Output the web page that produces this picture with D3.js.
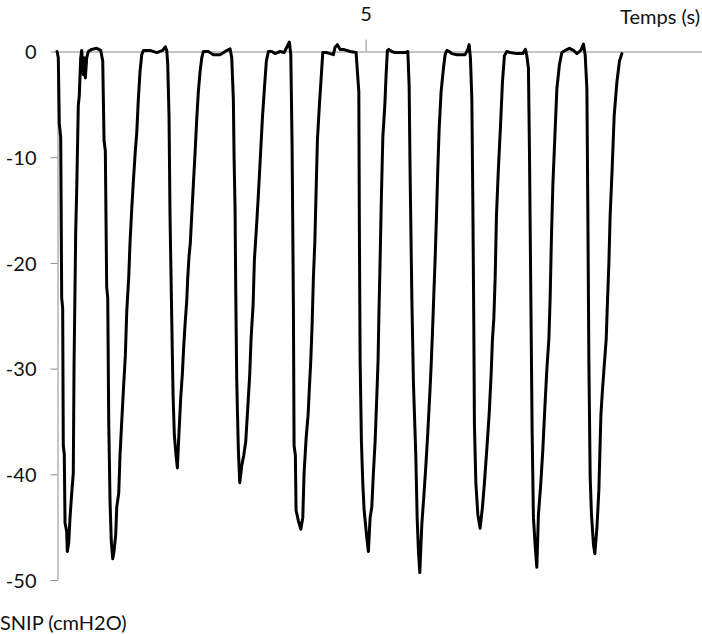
<!DOCTYPE html>
<html>
<head>
<meta charset="utf-8">
<script src="https://cdn.jsdelivr.net/npm/d3@7"></script>
<style>
  html, body { margin: 0; padding: 0; background: #fff; }
  svg { display: block; }
  text { font-family: Lato, "Liberation Sans", Arial, sans-serif; fill: #111; }
</style>
</head>
<body>
<svg id="chart" width="702" height="634"></svg>
<script>
// Time (s)
const timeS = [
0.000,0.005,0.021,0.037,0.060,0.076,0.092,0.102,0.118,0.130,0.157,0.167,0.190,0.211,0.238,0.264,0.276,0.303,0.319,0.345,
0.361,0.384,0.400,0.426,0.442,0.459,0.481,0.507,0.562,0.643,0.708,0.741,0.762,0.783,0.805,0.822,0.838,0.859,0.880,0.903,
0.924,0.951,0.968,1.000,1.021,1.049,1.075,1.107,1.130,1.162,1.183,1.211,1.237,1.269,1.292,1.318,1.345,1.373,1.399,1.507,
1.616,1.713,1.755,1.778,1.794,1.815,1.831,1.859,1.880,1.901,1.929,1.950,1.977,2.005,2.031,2.053,2.074,2.102,2.118,2.139,
2.160,2.183,2.209,2.236,2.264,2.290,2.318,2.345,2.371,2.452,2.533,2.642,2.723,2.804,2.831,2.857,2.869,2.885,2.896,2.912,
2.922,2.938,2.961,2.993,3.026,3.058,3.091,3.123,3.144,3.177,3.198,3.230,3.262,3.295,3.327,3.360,3.392,3.425,3.480,3.533,
3.614,3.679,3.723,3.765,3.788,3.809,3.830,3.841,3.862,3.873,3.911,3.950,3.982,4.003,4.036,4.068,4.089,4.112,4.133,4.154,
4.177,4.198,4.219,4.251,4.283,4.306,4.371,4.478,4.505,4.543,4.587,4.640,4.749,4.846,4.867,4.890,4.899,4.911,4.932,4.954,
4.976,5.019,5.045,5.073,5.100,5.126,5.154,5.181,5.202,5.214,5.235,5.256,5.279,5.311,5.332,5.353,5.376,5.424,5.478,5.640,
5.684,5.705,5.721,5.749,5.775,5.813,5.835,5.856,5.878,5.911,5.943,5.976,6.008,6.040,6.061,6.083,6.105,6.126,6.147,6.170,
6.191,6.223,6.261,6.288,6.316,6.353,6.397,6.478,6.612,6.656,6.677,6.698,6.721,6.737,6.753,6.763,6.786,6.818,6.855,6.893,
6.925,6.964,7.001,7.034,7.055,7.077,7.099,7.120,7.152,7.185,7.217,7.249,7.288,7.342,7.450,7.547,7.590,7.612,7.638,7.655,
7.677,7.698,7.719,7.747,7.774,7.800,7.839,7.872,7.904,7.936,7.969,7.990,8.011,8.034,8.066,8.099,8.141,8.180,8.233,8.303,
8.368,8.423,8.487,8.530,8.557,8.585,8.601,8.617,8.638,8.659,8.692,8.714,8.747,8.779,8.812,8.833,8.865,8.898,8.919,8.941,
8.962,8.995,9.027,9.071,9.113,9.152
];
// SNIP (cmH2O)
const snipCmH2O = [
0,-0.1,-0.6,-6.8,-8.1,-23.3,-24.3,-37.3,-38.1,-44.6,-45.4,-47.3,-46.5,-44.1,-41.8,-39.9,-29.8,-17.1,-13.2,-5.1,
-4.2,-0.6,0.1,-2.2,-0.6,-2.5,-0.6,0,0.2,0.3,0.1,-0.9,-8.4,-9.4,-22.3,-23.3,-35,-42.5,-46.4,-48,
-47.3,-45.7,-43.1,-41.8,-38.2,-35,-32.1,-28.8,-24.6,-21.4,-18.1,-14.9,-12.3,-9.4,-7.7,-4.5,-1.9,-0.3,0.1,0.1,
-0.1,0.1,0.45,0.1,-1.2,-6.1,-15.5,-25.3,-32.4,-36.3,-38.2,-39.4,-36,-32.7,-30.5,-27.9,-25.9,-23.6,-21.4,-19.4,
-18.1,-15.5,-12.6,-9.7,-6.4,-3.8,-1.9,-0.6,0,0,-0.3,-0.3,0,0.26,-0.6,-4.5,-10,-14.9,-22.7,-31.1,
-33.7,-37.6,-40.8,-39.2,-38.2,-36.9,-33.7,-30.5,-27.2,-24,-19.7,-16.8,-13.6,-10,-6.4,-3.5,-0.9,0,0,-0.2,
0,-0.1,0.4,0.9,-0.3,-9,-24,-37.3,-38.2,-43.4,-44.4,-45.2,-44.1,-39.9,-36.6,-34.4,-31.8,-29.2,-25.9,-21.4,
-18.1,-13.2,-8.4,-5.1,-2.2,-0.1,-0.1,-0.3,0.4,0.65,0.2,0.2,0,-0.1,-1.9,-3.8,-16.8,-29.2,-36.9,-40.8,
-43.4,-46,-47.3,-44.1,-43.1,-39.9,-36.9,-32.7,-29.2,-25.3,-19.7,-13.6,-8.1,-5.1,-2.2,0.1,0.2,0,-0.1,-0.1,
0,-3.2,-11.6,-23.3,-31.4,-38.2,-44.1,-47.3,-49.3,-44.7,-42.1,-39.2,-36,-32.4,-29.8,-26.6,-23,-19.7,-15.8,-11,
-7.4,-3.8,-1.6,-0.3,0.1,0,-0.2,-0.3,-0.3,0.2,0.65,-0.6,-4.5,-14.2,-25.9,-35.3,-40.8,-43.8,-45.1,-43.1,
-40.8,-37.6,-34.4,-30.5,-27.2,-25.3,-21.4,-15.5,-11,-7.1,-2.9,-0.4,0,-0.1,-0.2,-0.2,0.2,-0.4,-1.6,-9.7,
-23.3,-36,-44.1,-46.7,-48.8,-43.8,-40.8,-37.6,-33.7,-30.1,-27.2,-23.3,-17.5,-12.6,-8.1,-3.5,-1.2,-0.1,0.1,0.3,
0.1,-0.2,0.1,0.7,-0.3,-3.5,-15.5,-29.2,-40.2,-43.8,-46.7,-47.5,-45.1,-41.5,-34.4,-32.4,-29.8,-27.2,-23.6,-20.1,
-15.5,-11,-6.1,-2.9,-0.9,-0.2
];
const xTicks = [5];
const yTicks = [0, -10, -20, -30, -40, -50];
const xTitle = "Temps (s)";
const yTitle = "SNIP (cmH2O)";

const svg = d3.select("#chart");
const x = d3.scaleLinear().domain([0, 10.45]).range([57, 702]);
const y = d3.scaleLinear().domain([0, -50]).range([51.5, 580]);

const axisColor = "#8c8c8c";
const fontFam = "Lato, 'Liberation Sans', Arial, sans-serif";
const fs = 20;

// Y axis
const gy = svg.append("g").attr("transform", "translate(57.5,0)")
  .call(d3.axisLeft(y).tickValues(yTicks).tickSize(7).tickSizeOuter(0).tickPadding(14).tickFormat(d => String(d)));
gy.select(".domain").attr("stroke", axisColor);
gy.selectAll(".tick line").attr("stroke", axisColor);
gy.selectAll(".tick text").attr("font-size", fs).attr("font-family", fontFam).attr("fill", "#111").attr("dy", "0.36em");

// X axis (at y = 0, labels above)
const gx = svg.append("g").attr("transform", `translate(0,${y(0)})`)
  .call(d3.axisTop(x).tickValues(xTicks).tickSize(12).tickSizeOuter(0).tickPadding(19).tickFormat(d => String(d)));
gx.select(".domain").attr("stroke", axisColor);
gx.selectAll(".tick line").attr("stroke", axisColor);
gx.selectAll(".tick text").attr("font-size", fs).attr("font-family", fontFam).attr("fill", "#111");

// Titles
svg.append("text").attr("x", 700).attr("y", 24).attr("text-anchor", "end")
  .attr("font-size", fs).text(xTitle);
svg.append("text").attr("x", 0).attr("y", 630).attr("text-anchor", "start")
  .attr("font-size", fs).text(yTitle);

// Line
const pts = timeS.map((t, i) => [t, snipCmH2O[i]]);
svg.append("path").datum(pts)
  .attr("fill", "none").attr("stroke", "#000").attr("stroke-width", 3)
  .attr("stroke-linejoin", "round").attr("stroke-linecap", "round")
  .attr("d", d3.line().x(d => x(d[0])).y(d => y(d[1])));
</script>
</body>
</html>
